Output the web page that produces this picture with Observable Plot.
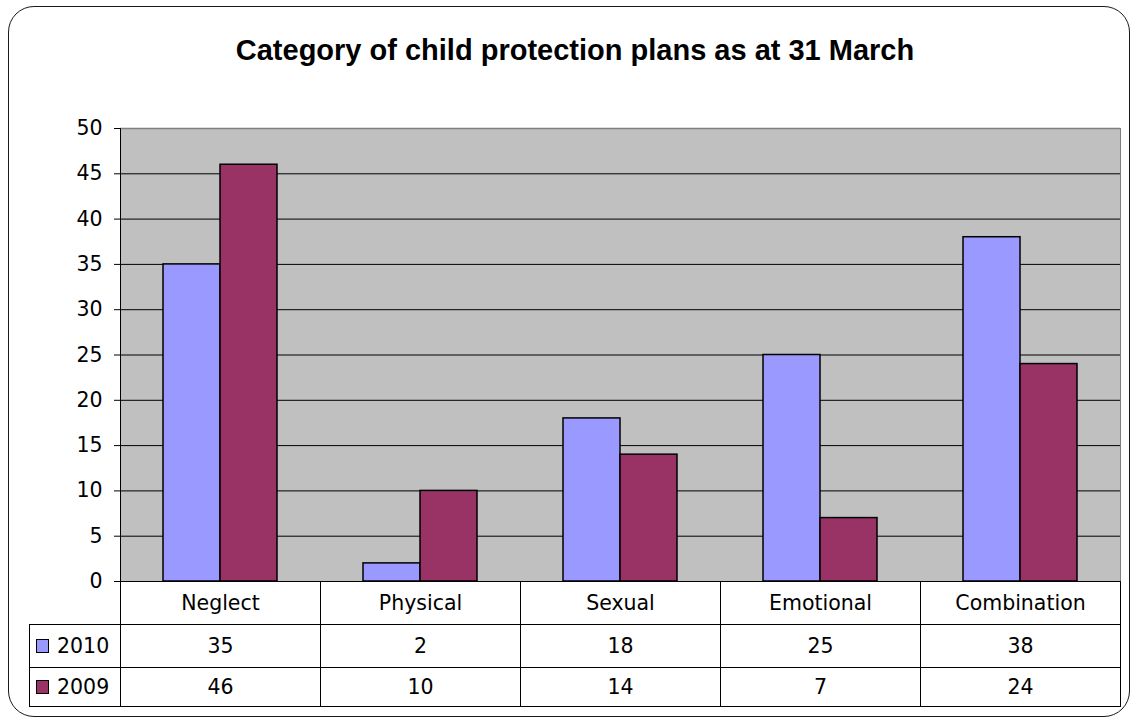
<!DOCTYPE html>
<html><head><meta charset="utf-8">
<script src="https://cdn.jsdelivr.net/npm/d3@7"></script>
<script src="https://cdn.jsdelivr.net/npm/@observablehq/plot@0.6"></script>
<style>
html,body{margin:0;padding:0;background:#fff;}
#wrap{position:relative;width:1133px;height:720px;overflow:hidden;font-family:"DejaVu Sans",sans-serif;}
#border{position:absolute;left:8px;top:6px;width:1122px;height:711px;border:1.5px solid #1a1a1a;border-radius:26px;box-sizing:border-box;pointer-events:none;}
#title{position:absolute;left:575px;top:36px;transform:translateX(-50%);white-space:nowrap;font:bold 29px/29px "Liberation Sans",Arial,sans-serif;color:#000;}
#chart{position:absolute;left:0;top:0;}
.cell{position:absolute;box-sizing:border-box;border:1px solid #000;display:flex;align-items:center;justify-content:center;font-size:20.5px;color:#000;background:#fff;}
.key{display:inline-block;width:13px;height:14px;box-sizing:border-box;border:1px solid #000;margin-right:8px;}
.vline{position:absolute;width:1px;background:#808080;}
</style></head><body><div id="wrap"><div id="chart"></div><div id="title"></div><div id="border"></div></div>
<script>
const title = "Category of child protection plans as at 31 March";
const categories = ["Neglect", "Physical", "Sexual", "Emotional", "Combination"];
const years = ["2010", "2009"];
const values2010 = [35, 2, 18, 25, 38];
const values2009 = [46, 10, 14, 7, 24];
const yTicks = [0, 5, 10, 15, 20, 25, 30, 35, 40, 45, 50];
const colors = ["#9999ff", "#993366"];

const seriesValues = [values2010, values2009];
const rows = years.flatMap((yr, j) => categories.map((c, i) => ({category: c, year: yr, value: seriesValues[j][i]})));

document.getElementById("title").textContent = title;

const plot = Plot.plot({
  width: 1133,
  height: 720,
  marginLeft: 118,
  marginRight: 12,
  marginTop: 128,
  marginBottom: 139,
  style: {fontFamily: "DejaVu Sans, sans-serif", fontSize: "20.5px", color: "#000", background: "transparent", overflow: "visible"},
  facet: {data: rows, x: "category"},
  fx: {domain: categories, paddingInner: 0, paddingOuter: 0, axis: null},
  x: {domain: years, paddingInner: 0, paddingOuter: 0.73, axis: null},
  y: {domain: [0, 50], ticks: yTicks, tickSize: 6, tickPadding: 12, line: true, label: null, tickFormat: d => String(d)},
  color: {domain: years, range: colors},
  marks: [
    Plot.frame({fill: "#c0c0c0", stroke: "#c0c0c0", strokeWidth: 1}),
    Plot.ruleY(yTicks.filter(t => t < 50), {stroke: "#000", strokeWidth: 1}),
    Plot.ruleY([50], {stroke: "#808080", strokeWidth: 1.5}),
    Plot.barY(rows, {x: "year", y: "value", fill: "year", stroke: "#000", strokeWidth: 1.5})
  ]
});
// drop Plot's warning badge, if any
plot.querySelectorAll("text").forEach(t => { if (t.textContent.includes("\u26A0")) t.remove(); });
const wrap = document.getElementById("wrap");
document.getElementById("chart").appendChild(plot);

// Data table below the plot, aligned to Plot's own scales
const fx = plot.scale("fx");
const ys = plot.scale("y");
const step = fx.step || fx.bandwidth;
const colX = categories.map(c => fx.apply(c));
const rightEdge = colX[colX.length - 1] + step;
const tableTop = ys.apply(0);
const plotTop = ys.apply(50);
const rowHeights = [43, 43, 39];
const keyLeft = 29;

// y axis line and right border of plot area
const al = document.createElement("div");
al.className = "vline";
al.style.background = "#000";
al.style.left = Math.round(colX[0]) + "px";
al.style.top = Math.round(plotTop) + "px";
al.style.height = Math.round(tableTop - plotTop) + "px";
wrap.appendChild(al);
const vl = document.createElement("div");
vl.className = "vline";
vl.style.left = Math.round(rightEdge) + "px";
vl.style.top = Math.round(plotTop) + "px";
vl.style.height = Math.round(tableTop - plotTop) + "px";
wrap.appendChild(vl);

function addCell(x0, x1, y0, h, content) {
  const d = document.createElement("div");
  d.className = "cell";
  d.style.left = Math.round(x0) + "px";
  d.style.top = Math.round(y0) + "px";
  d.style.width = (Math.round(x1) - Math.round(x0) + 1) + "px";
  d.style.height = (Math.round(h) + 1) + "px";
  if (typeof content === "string") d.textContent = content;
  else d.appendChild(content);
  wrap.appendChild(d);
  return d;
}
let yPos = tableTop;
categories.forEach((c, i) => addCell(colX[i], colX[i] + step, yPos, rowHeights[0], c));
yPos += rowHeights[0];
years.forEach((yr, j) => {
  const frag = document.createElement("span");
  frag.style.display = "flex";
  frag.style.alignItems = "center";
  const k = document.createElement("span");
  k.className = "key";
  k.style.background = colors[j];
  frag.appendChild(k);
  frag.appendChild(document.createTextNode(yr));
  const kc = addCell(keyLeft, colX[0], yPos, rowHeights[j + 1], frag);
  kc.style.justifyContent = "flex-start";
  kc.style.paddingLeft = "6px";
  categories.forEach((c, i) => addCell(colX[i], colX[i] + step, yPos, rowHeights[j + 1], String(seriesValues[j][i])));
  yPos += rowHeights[j + 1];
});
</script></body></html>
